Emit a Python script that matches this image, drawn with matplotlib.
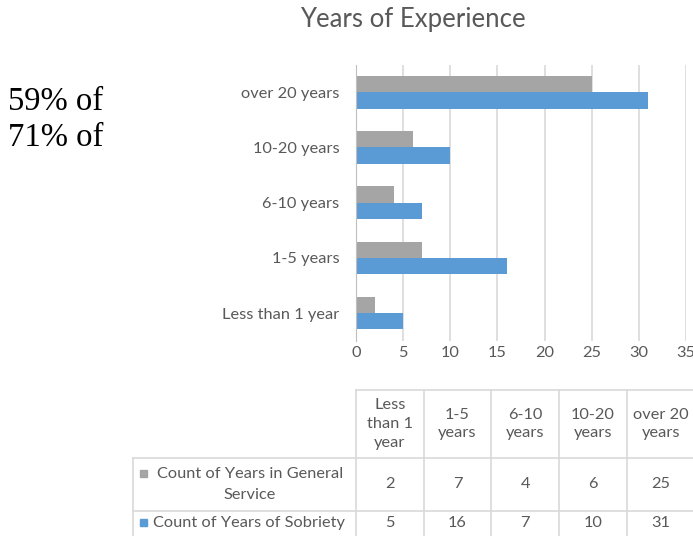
import matplotlib
matplotlib.use('Agg')
import matplotlib.pyplot as plt
import numpy as np
from matplotlib.lines import Line2D
from matplotlib.patches import Rectangle

# Data
categories = ['Less than 1 year', '1-5 years', '6-10 years', '10-20 years', 'over 20 years']
header_labels = ['Less\nthan 1\nyear', '1-5\nyears', '6-10\nyears', '10-20\nyears', 'over 20\nyears']
general_service = [2, 7, 4, 6, 25]
sobriety = [5, 16, 7, 10, 31]
series_names = ['Count of Years in General\nService', 'Count of Years of Sobriety']
side_notes = ['59% of', '71% of']

GRAY = '#A5A5A5'
BLUE = '#5B9BD5'
TXT = '#595959'
GRID = '#D9D9D9'
FS = 11.8

W, H = 693, 536
plt.rcParams['font.family'] = ['Lato', 'DejaVu Sans']

fig = plt.figure(figsize=(W / 100, H / 100), dpi=100)


def fx(px):
    return px / W


def fy(py):
    return 1 - py / H


# Plot area
ax_l, ax_r, ax_t, ax_b = 356, 686, 64.7, 340.6
ax = fig.add_axes([fx(ax_l), fy(ax_b), fx(ax_r - ax_l), (ax_b - ax_t) / H])

y = np.arange(len(categories))
bh = 0.295
ax.barh(y + bh / 2, general_service, height=bh, color=GRAY, zorder=3)
ax.barh(y - bh / 2, sobriety, height=bh, color=BLUE, zorder=3)

ax.set_xlim(0, 35)
ax.set_ylim(-0.5, len(categories) - 0.5)
ax.set_xticks(np.arange(0, 36, 5))
ax.set_yticks(y)
ax.set_yticklabels(categories)
ax.tick_params(axis='y', length=0, pad=12, labelsize=FS, labelcolor=TXT)
ax.tick_params(axis='x', length=0, pad=4, labelsize=FS, labelcolor=TXT)
ax.xaxis.grid(True, color=GRID, linewidth=1.2, zorder=0)
for s in ['top', 'right', 'bottom']:
    ax.spines[s].set_visible(False)
ax.spines['left'].set_color('#BFBFBF')
ax.spines['left'].set_zorder(4)

fig.text(fx(413), fy(20), 'Years of Experience', ha='center', va='center',
         fontsize=18.5, color=TXT)

# Side notes
for i, note in enumerate(side_notes):
    fig.text(fx(8), fy(102 + 36 * i), note, ha='left', va='center',
             fontsize=23.5, family='Liberation Serif', color='black')

# Data table
col_x = [356 + 67.7 * i for i in range(len(categories) + 1)]
row_y = [390, 458, 511, 536]
lab_l = 133


def hline(x0, x1, yy):
    fig.add_artist(Line2D([fx(x0), fx(x1)], [fy(yy), fy(yy)], color=GRID, lw=1.2))


def vline(xx, y0, y1):
    fig.add_artist(Line2D([fx(xx), fx(xx)], [fy(y0), fy(y1)], color=GRID, lw=1.2))


hline(col_x[0], col_x[-1], row_y[0])
for yy in row_y[1:3]:
    hline(lab_l, col_x[-1], yy)
for xx in col_x:
    vline(xx, row_y[0], row_y[-1])
vline(lab_l, row_y[1], row_y[-1])

for i, lab in enumerate(header_labels):
    cx = (col_x[i] + col_x[i + 1]) / 2
    fig.text(fx(cx), fy((row_y[0] + row_y[1]) / 2), lab, ha='center', va='center',
             fontsize=FS, color=TXT, linespacing=1.42)

series = [general_service, sobriety]
colors = [GRAY, BLUE]
row_centers = [(row_y[1] + row_y[2]) / 2, 523]
for r, vals in enumerate(series):
    for i, v in enumerate(vals):
        cx = (col_x[i] + col_x[i + 1]) / 2
        fig.text(fx(cx), fy(row_centers[r]), str(v), ha='center', va='center',
                 fontsize=FS, color=TXT)

# Row labels with legend keys
fig.text(fx(250), fy(row_centers[0]), series_names[0], ha='center', va='center',
         fontsize=FS, color=TXT, linespacing=1.6)
fig.add_artist(Rectangle((fx(140), fy(477)), fx(7), 7 / H, color=colors[0],
                         transform=fig.transFigure))
fig.text(fx(153), fy(row_centers[1]), series_names[1], ha='left', va='center',
         fontsize=FS, color=TXT)
fig.add_artist(Rectangle((fx(140), fy(526)), fx(7), 7 / H, color=colors[1],
                         transform=fig.transFigure))

fig.savefig('out.png', dpi=100)
